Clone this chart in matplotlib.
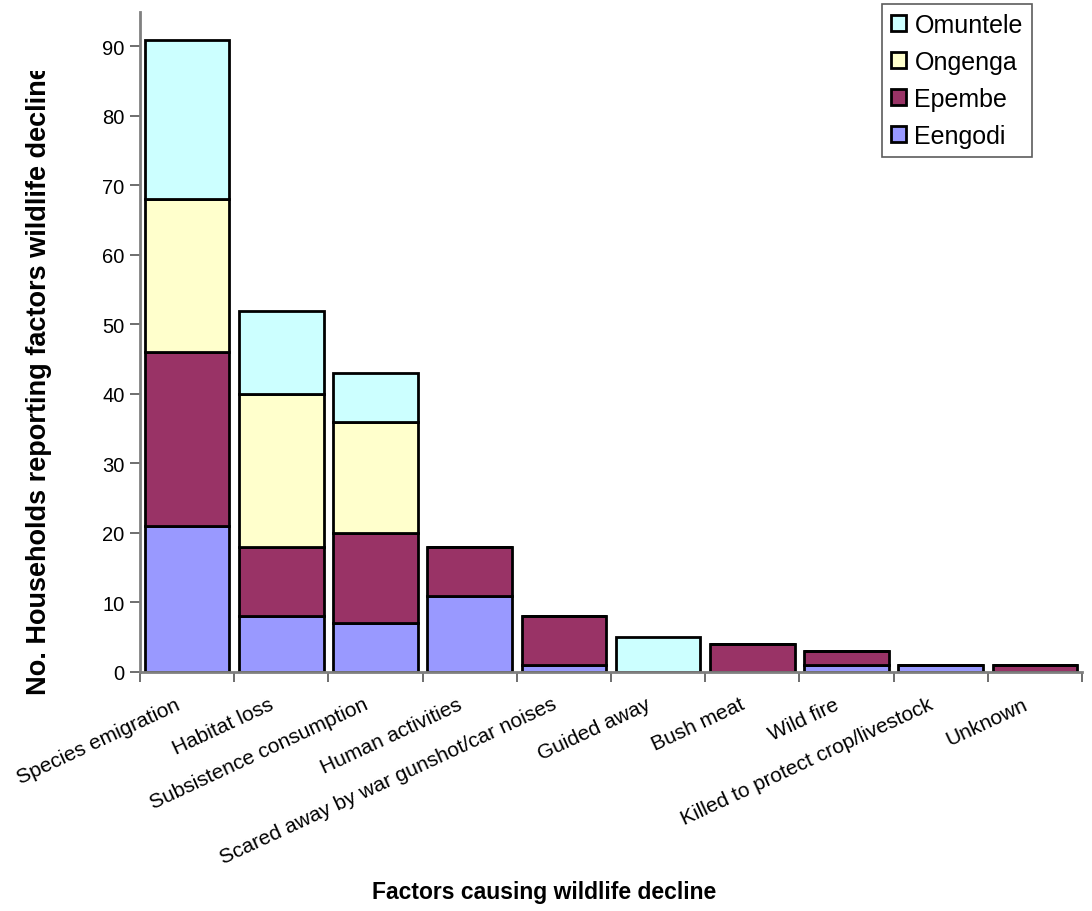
import numpy as np
import matplotlib
matplotlib.use("Agg")
import matplotlib.pyplot as plt
from matplotlib.transforms import Bbox, TransformedBbox, ScaledTranslation

plt.rcParams["font.family"] = ["Liberation Sans", "DejaVu Sans"]

factors = [
    "Species emigration", "Habitat loss", "Subsistence consumption",
    "Human activities", "Scared away by war gunshot/car noises",
    "Guided away", "Bush meat", "Wild fire",
    "Killed to protect crop/livestock", "Unknown",
]
eengodi  = [21, 8, 7, 11, 1, 0, 0, 1, 1, 0]
epembe   = [25, 10, 13, 7, 7, 0, 4, 2, 0, 1]
ongenga  = [22, 22, 16, 0, 0, 0, 0, 0, 0, 0]
omuntele = [23, 12, 7, 0, 0, 5, 0, 0, 0, 0]

series = [
    ("Eengodi", eengodi, "#9999FF"),
    ("Epembe", epembe, "#993366"),
    ("Ongenga", ongenga, "#FFFFCC"),
    ("Omuntele", omuntele, "#CCFFFF"),
]

fig = plt.figure(figsize=(10.92, 9.12), dpi=100)
ax = fig.add_axes([140 / 1092, 1 - 673 / 912, 942 / 1092, (673 - 12.7) / 912])

x = np.arange(len(factors))
bottom = np.zeros(len(factors))
handles = []
for name, vals, color in series:
    vals = np.array(vals, dtype=float)
    bars = ax.bar(x, vals, 0.9, bottom=bottom, color=color,
                  edgecolor="black", linewidth=2.0, label=name)
    handles.append(bars)
    bottom += vals

ax.set_xlim(-0.5, len(factors) - 0.5)
ax.set_ylim(0, 95)
ax.set_yticks(np.arange(0, 91, 10))
ax.tick_params(axis="y", labelsize=14.5, length=7, width=1.2,
               color="#555555", pad=4)

# category boundaries get the tick marks, labels sit at the bar centres
ax.set_xticks(np.arange(-0.5, len(factors), 1.0))
ax.set_xticklabels([])
ax.set_xticks(x, minor=True)
ax.set_xticklabels(factors, minor=True, rotation=25, ha="right", va="top",
                   rotation_mode="anchor", fontsize=15)
ax.tick_params(axis="x", which="major", length=7, width=1.2, color="#555555")
ax.tick_params(axis="x", which="minor", length=0, pad=16)
shift = ScaledTranslation(-9 / 72, 0, fig.dpi_scale_trans)
for lab in ax.get_xticklabels(minor=True):
    lab.set_transform(lab.get_transform() + shift)

for side in ("top", "right"):
    ax.spines[side].set_visible(False)
for side in ("left", "bottom"):
    ax.spines[side].set_color("#808080")
    ax.spines[side].set_linewidth(2.0)

leg = fig.legend(handles[::-1], [s[0] for s in series][::-1],
                 loc="upper left", bbox_to_anchor=(882 / 1092, 1 - 5 / 912),
                 fontsize=18, frameon=True, fancybox=False, shadow=False,
                 handlelength=0.6, handleheight=0.6, handletextpad=0.35,
                 labelspacing=0.52, borderpad=0.35, borderaxespad=0)
leg.get_frame().set_edgecolor("#333333")
leg.get_frame().set_linewidth(1.2)

fig.text(544 / 1092, 1 - 893 / 912, "Factors causing wildlife decline",
         ha="center", va="center", fontsize=16.5, fontweight="bold")

ylab = fig.text(39 / 1092, 1 - 695 / 912,
                "No. Households reporting factors wildlife decline",
                rotation=90, ha="center", va="bottom",
                fontsize=19.5, fontweight="bold")
ylab.set_clip_box(TransformedBbox(Bbox([[0, 0], [1, 1 - 72 / 912]]),
                                  fig.transFigure))
ylab.set_clip_on(True)

fig.savefig("out.png", dpi=100)
